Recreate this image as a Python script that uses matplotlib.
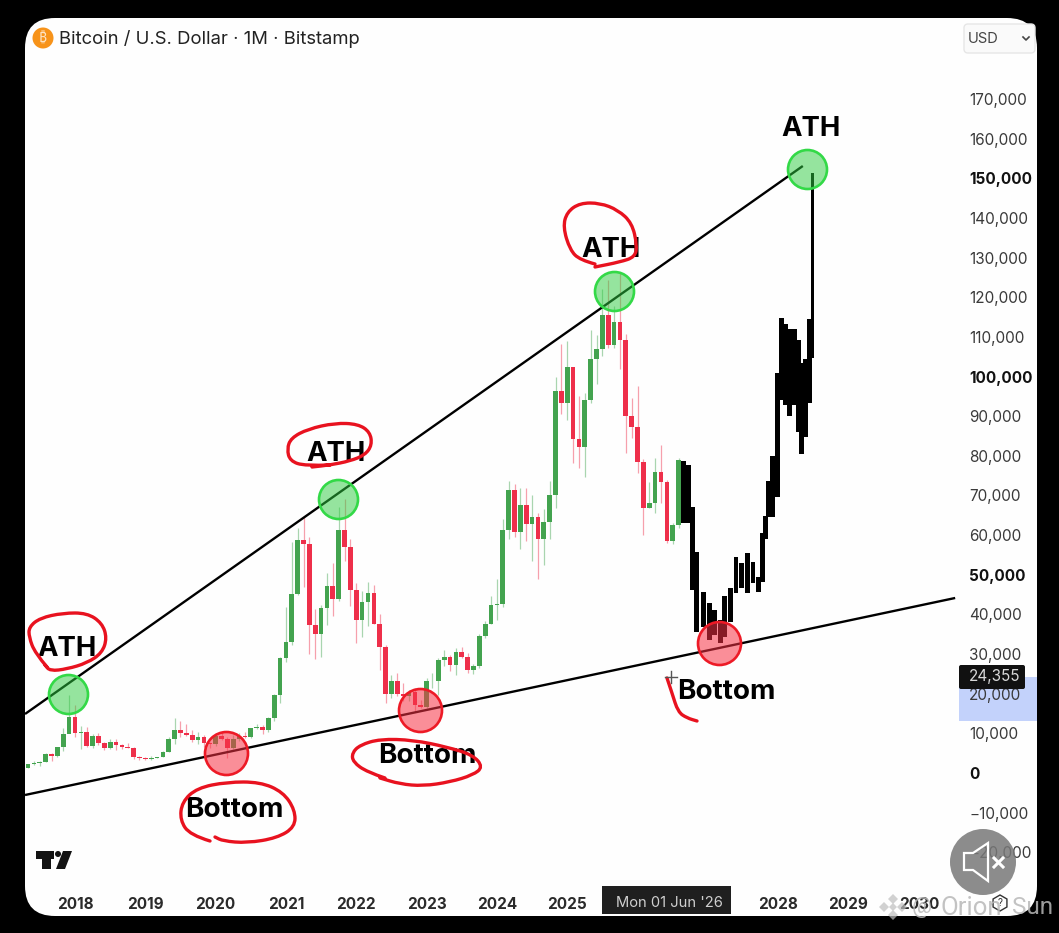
import numpy as np
import matplotlib as mpl
mpl.use('Agg')
import matplotlib.pyplot as plt
from matplotlib.patches import FancyBboxPatch, Rectangle, Circle, Polygon, RegularPolygon, PathPatch
from matplotlib.path import Path
from matplotlib.transforms import Affine2D

W, H = 1059, 933
plt.rcParams['font.family'] = ['Inter', 'DejaVu Sans']

# months counted from Jan 2018, first candle is May 2017
first_month = -8
opens = [1350, 2300, 2480, 2870, 4700, 4340, 6450, 9900,
         14100, 10200, 10300, 6930, 9240, 7500, 6390, 7730, 7010, 6600, 6300, 4000,
         3700, 3430, 3810, 4100, 5270, 8560, 10800, 10080, 9590, 8290, 9150, 7540,
         7190, 9350, 8530, 6410, 8620, 9450, 9140, 11350, 11650, 10780, 13800, 19700,
         28950, 33100, 45200, 58800, 57700, 37300, 35000, 41500, 47100, 43800, 61300, 57000,
         46200, 38500, 43200, 45500, 37700, 31800, 19900, 23300, 20050, 19400, 20500, 17200,
         16550, 23100, 23150, 28500, 29250, 27200, 30470, 29200, 25950, 27000, 34650, 37700,
         42250, 42600, 61200, 71300, 60700, 67500, 62700, 64600, 58900, 63300, 70200, 96400,
         93300, 102400, 84300, 82300, 94000, 104400, 107000, 115500, 108000, 113700, 109300, 90000,
         87300, 78400, 66800, 68000, 76000, 73400, 58500, 62500]
highs = [2300, 2970, 2930, 4980, 4980, 6450, 11400, 19660,
         17200, 11780, 11700, 9750, 10000, 7780, 8500, 8480, 7400, 7680, 6550, 4200,
         4050, 4200, 4100, 5640, 9070, 13880, 13130, 12300, 10900, 10370, 9500, 7750,
         9570, 10500, 9190, 9460, 10070, 10380, 11400, 12470, 12080, 14100, 19900, 29300,
         41950, 58300, 61700, 64900, 59500, 41300, 42400, 50500, 52900, 67000, 69000, 59000,
         47900, 45800, 48100, 47400, 40000, 32400, 24700, 25200, 22800, 21000, 21500, 18400,
         23900, 25200, 29000, 31000, 29800, 31400, 31800, 30200, 27500, 35000, 38400, 44700,
         48900, 64000, 73750, 72800, 71900, 72000, 70000, 65600, 66500, 73600, 99800, 108300,
         109000, 102500, 95000, 95800, 111700, 110500, 122000, 124400, 117900, 126200, 110600, 94600,
         97600, 79300, 73400, 79500, 82700, 74000, 63000, 79500]
lows = [1350, 2100, 1830, 2700, 2970, 4100, 5500, 10700,
        9200, 6000, 6600, 6430, 7000, 5750, 6000, 5880, 6100, 6200, 3650, 3200,
        3350, 3380, 3730, 4100, 5350, 7440, 9100, 9320, 7700, 7300, 6500, 6430,
        6850, 8400, 3850, 6150, 8110, 8900, 8950, 11100, 9820, 10370, 13200, 17600,
        28100, 32300, 45000, 47000, 30000, 28800, 29300, 37300, 39600, 43300, 53500, 42000,
        32900, 34300, 37200, 37600, 26000, 17600, 18800, 19500, 18100, 18200, 15500, 16300,
        16500, 21400, 19600, 26900, 25800, 24800, 28900, 25300, 24900, 26500, 34100, 37600,
        38500, 41900, 59100, 59600, 56500, 58400, 53500, 49000, 52500, 58900, 66800, 90500,
        89000, 78200, 77000, 74700, 93300, 98200, 105100, 107300, 107200, 102000, 80600, 84500,
        75700, 60000, 66800, 65500, 68000, 58000, 57800, 61800]
closes = [2300, 2480, 2870, 4700, 4340, 6450, 9900, 14100,
          10200, 10300, 6930, 9240, 7500, 6390, 7730, 7010, 6600, 6300, 4000, 3700,
          3430, 3810, 4100, 5270, 8560, 10800, 10080, 9590, 8290, 9150, 7540, 7190,
          9350, 8530, 6410, 8620, 9450, 9140, 11350, 11650, 10780, 13800, 19700, 28950,
          33100, 45200, 58800, 57700, 37300, 35000, 41500, 47100, 43800, 61300, 57000, 46200,
          38500, 43200, 45500, 37700, 31800, 19900, 23300, 20050, 19400, 20500, 17200, 16550,
          23100, 23150, 28500, 29250, 27200, 30470, 29200, 25950, 27000, 34650, 37700, 42250,
          42600, 61200, 71300, 60700, 67500, 62700, 64600, 58900, 63300, 70200, 96400, 93300,
          102400, 84300, 82300, 94000, 104400, 107000, 115500, 108000, 113700, 109300, 90000, 87300,
          78400, 66800, 68000, 76000, 73400, 58500, 62500, 79000]

# black projection bars
ghost_month = [103.9, 104.7, 105.4, 106.1, 107.2, 108.2, 109.2, 110.1, 110.9, 111.9,
               112.8, 113.8, 114.7, 115.7, 116.6, 117.4, 117.9, 118.4, 119.1, 119.8, 120.5,
               121.3, 121.9, 122.7, 123.4, 123.9, 124.7, 125.4]
ghost_top = [78700, 77700, 67100, 55700, 45650, 42900, 41100, 38600, 44600, 46650,
             54500, 53000, 55500, 53200, 49400, 60500, 64800, 73600, 80000, 100900, 114750,
             113200, 112000, 112000, 109200, 103400, 104400, 114500]
ghost_bottom = [63050, 63050, 46150, 35560, 36800, 33500, 34800, 32800, 34300, 38100,
                45400, 46650, 45400, 47900, 45650, 48200, 59000, 64600, 64600, 69600, 94100,
                92800, 90000, 92800, 86000, 80450, 84700, 93300]
spike_month = [125.9]
spike_top = [151300]
spike_bottom = [104700]

# trend lines
upper_line_x = [-8.53, 124.2]
upper_line_y = [14880, 153090]
lower_line_x = [-8.53, 150.2]
lower_line_y = [-5550, 44140]

# circles
ath_x = [-1.2, 44.9, 92.0, 124.9]
ath_y = [19900, 69100, 121500, 152400]
bottom_x = [25.8, 58.9, 109.9]
bottom_y = [4980, 15890, 32800]

year_ticks = [0, 12, 24, 36, 48, 60, 72, 84, 120, 132, 144]
year_labels = ['2018', '2019', '2020', '2021', '2022', '2023', '2024', '2025', '2028', '2029', '2030']
price_ticks = [170000, 160000, 150000, 140000, 130000, 120000, 110000, 100000, 90000, 80000,
               70000, 60000, 50000, 40000, 30000, 20000, 10000, 0, -10000, -20000]
bold_prices = [150000, 100000, 50000, 0]

# pen marks, in picture pixels
pen_marks = [
    [(47, 667), (35, 653), (29, 637), (29, 627), (40, 618), (63, 613), (87, 613), (102, 623),
     (107, 638), (102, 653), (87, 663), (67, 669), (50, 671), (45, 665)],
    [(330, 465), (305, 466), (290, 461), (287, 449), (291, 438), (308, 429), (335, 423), (358, 424), (370, 432),
     (372, 445), (365, 455), (350, 461), (330, 465), (312, 467)],
    [(595, 264), (580, 260), (570, 250), (563, 227), (567, 212), (580, 203), (600, 203), (618, 210),
     (632, 223), (637, 245), (635, 257), (620, 262), (595, 267)],
    [(210, 841), (190, 835), (180, 820), (182, 802), (197, 788), (227, 782), (260, 782), (283, 792),
     (295, 810), (295, 827), (277, 838), (247, 843), (223, 841), (215, 837)],
    [(385, 778), (367, 772), (353, 762), (352, 753), (360, 745), (380, 739), (413, 740), (447, 747),
     (473, 755), (483, 767), (473, 775), (450, 782), (423, 786), (400, 784), (380, 778)],
    [(667, 678), (672, 693), (678, 712), (687, 718), (697, 721)],
]

fig = plt.figure(figsize=(W / 100, H / 100), dpi=100, facecolor='black')
ax = fig.add_axes([0, 0, 1, 1])
ax.patch.set_visible(False)
for s in ax.spines.values():
    s.set_visible(False)

# 75 px = Jan 2018, 5.86 px per month; 773 px = price 0, 0.003965 px per dollar
ax.set_xlim((0 - 75) / 5.86, (W - 75) / 5.86)
ax.set_ylim((773 - H) / 0.003965, 773 / 0.003965)

px = Affine2D().scale(1, -1).translate(0, H)

ax.add_patch(FancyBboxPatch((25, 18), 1012, 898, boxstyle='round,pad=0,rounding_size=30',
                            fc='#fefefe', ec='none', transform=px, zorder=0))
ax.add_patch(Rectangle((959, 677), 78, 44, fc='#c3d2fb', ec='none', transform=px, zorder=0.5))

months = np.arange(len(opens)) + first_month
opens = np.array(opens)
closes = np.array(closes)
up = closes >= opens
col = np.where(up, '#43a34f', '#ee2f4a')
ax.vlines(months, lows, highs, colors=col, linewidth=0.9, alpha=0.45, zorder=2)
ax.bar(months, closes - opens, bottom=opens, width=0.8, color=col, linewidth=0, zorder=3)

g_top = np.array(ghost_top)
g_bot = np.array(ghost_bottom)
ax.bar(ghost_month, g_top - g_bot, bottom=g_bot, width=0.85, color='black', linewidth=0, zorder=3)
ax.bar(spike_month, np.array(spike_top) - np.array(spike_bottom), bottom=spike_bottom, width=0.55,
       color='black', linewidth=0, zorder=3)

ax.plot(upper_line_x, upper_line_y, color='black', lw=1.7, solid_capstyle='butt', zorder=4)
ax.plot(lower_line_x, lower_line_y, color='black', lw=1.7, solid_capstyle='butt', zorder=4)

ax.scatter(ath_x, ath_y, s=(2 * 19.5 * 0.72) ** 2, facecolors=[(0.18, 0.8, 0.25, 0.5)],
           edgecolors=[(0.2, 0.85, 0.28, 1)], linewidths=1.9, zorder=5)
ax.scatter(bottom_x, bottom_y, s=(2 * 21.5 * 0.72) ** 2, facecolors=[(0.97, 0.2, 0.27, 0.55)],
           edgecolors=[(0.93, 0.1, 0.15, 1)], linewidths=1.9, zorder=5)

# axes
ax.set_xticks(year_ticks, year_labels, fontsize=11, fontweight='bold', color='#2a2a2a')
ax.xaxis.tick_bottom()
ax.tick_params(axis='x', length=0, pad=-(H - 897) * 0.72)
ax.yaxis.tick_right()
ax.set_yticks(price_ticks)
ax.set_yticklabels([f'{v:,}'.replace('-', '\u2212') for v in price_ticks], fontsize=11, color='#3a3a3a')
ax.tick_params(axis='y', length=0, pad=-(W - 969) * 0.72)
for lab, v in zip(ax.get_yticklabels(), price_ticks):
    if v in bold_prices:
        lab.set_fontweight('bold')
        lab.set_color('#111111')

def label(x, y, s, size, weight='normal', color='black', ha='center', z=6, **kw):
    ax.text(x, y, s, fontsize=size, fontweight=weight, color=color, ha=ha, va='center',
            transform=px, zorder=z, **kw)

for x, y in [(67, 649), (336, 454), (611, 250), (811, 129)]:
    label(x, y, 'ATH', 19.8, 'bold')
for x, y in [(234, 810), (427, 756), (726, 692)]:
    label(x, y, 'Bottom', 20, 'bold')

for mark in pen_marks:
    pts = np.array(mark, dtype=float)
    mids = (pts[:-1] + pts[1:]) / 2
    verts = [pts[0]]
    codes = [Path.MOVETO]
    for p, m in zip(pts[1:-1], mids[1:]):
        verts += [p, m]
        codes += [Path.CURVE3, Path.CURVE3]
    verts.append(pts[-1])
    codes.append(Path.LINETO)
    ax.add_patch(PathPatch(Path(verts, codes), fc='none', ec='#e8121f', lw=2.4, transform=px, zorder=7,
                           capstyle='round'))

# header
ax.add_patch(Circle((43, 38), 10.5, fc='#f7931a', ec='none', transform=px, zorder=6))
label(43, 38, '\u20bf', 10, 'bold', '#fde3c4',
      family=['Noto Sans', 'Roboto', 'Open Sans', 'Lato', 'Liberation Sans', 'Noto Sans CJK SC', 'DejaVu Sans'])
label(59, 39, 'Bitcoin / U.S. Dollar \u00b7 1M \u00b7 Bitstamp', 13.3, color='#222222', ha='left')
ax.add_patch(FancyBboxPatch((964, 24), 71, 29, boxstyle='round,pad=0,rounding_size=4',
                            fc='#fafafa', ec='#e6e6e6', lw=1, transform=px, zorder=6))
label(968, 39, 'USD', 10.6, color='#444444', ha='left', z=7)
ax.plot([1023, 1026, 1029], [37, 40, 37], color='#444444', lw=1.2, transform=px, zorder=7)

# price and date flags
ax.add_patch(FancyBboxPatch((959, 665), 66, 24, boxstyle='round,pad=0,rounding_size=2',
                            fc='#111111', ec='none', transform=px, zorder=6))
label(969, 677, '24,355', 11, color='#d8d8d8', ha='left', z=7)
ax.add_patch(Rectangle((602, 886), 129, 28, fc='#1f1f1f', ec='none', transform=px, zorder=6))
label(669, 903, "Mon 01 Jun '26", 10.6, color='#cfcfcf', z=7)

# crosshair
ax.plot([665, 677], [677, 677], color='#555555', lw=1, transform=px, zorder=8)
ax.plot([671, 671], [671, 683], color='#555555', lw=1, transform=px, zorder=8)

# tradingview logo
ax.add_patch(Polygon([(36, 851), (54, 851), (54, 859), (51, 859), (51, 869), (42, 869), (42, 859), (36, 859)],
                     fc='#131313', ec='none', transform=px, zorder=6))
ax.add_patch(Circle((58, 854), 3, fc='#131313', ec='none', transform=px, zorder=6))
ax.add_patch(Polygon([(63, 851), (72, 851), (65, 869), (56, 869)], fc='#131313', ec='none', transform=px, zorder=6))

# help hexagon
ax.add_patch(RegularPolygon((1000, 903), 6, radius=8, fc='none', ec='#333333', lw=1, transform=px, zorder=6))
label(1000, 903, '?', 7, color='#333333')

# mute button
ax.add_patch(Circle((983, 862), 33, fc=(0.47, 0.47, 0.47, 0.85), ec='none', transform=px, zorder=9))
ax.add_patch(Polygon([(964, 853), (973, 853), (988, 843), (988, 881), (973, 870), (964, 870)],
                     fc='none', ec='white', lw=1.6, transform=px, zorder=10))
ax.plot([994, 1003], [858, 867], color='white', lw=2.2, transform=px, zorder=10)
ax.plot([994, 1003], [867, 858], color='white', lw=2.2, transform=px, zorder=10)

# watermark
wm = (0.72, 0.72, 0.72, 0.85)
label(912, 908, '@', 16, color=wm, ha='left', z=11, family=['Roboto'])
label(940, 908, 'Orion', 18.5, color=wm, ha='left', z=11, family=['Roboto'])
label(1012, 908, 'Sun', 17.5, color=wm, ha='left', z=11, family=['Roboto'])
for dx, dy, r in [(893, 899, 5), (884, 907, 5), (902, 907, 5), (893, 915, 5), (893, 907, 4)]:
    ax.add_patch(RegularPolygon((dx, dy), 4, radius=r, fc=(0.75, 0.75, 0.75, 0.7), ec='none', transform=px, zorder=11))

fig.savefig('out.png', dpi=100, facecolor='black')
